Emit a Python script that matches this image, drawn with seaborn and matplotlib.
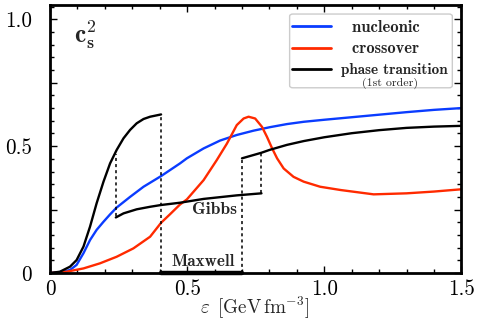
import numpy as np
import pandas as pd
import matplotlib
matplotlib.use("Agg")
import matplotlib.pyplot as plt
import seaborn as sns
from matplotlib.ticker import MultipleLocator, FixedLocator
from matplotlib.patches import FancyBboxPatch
from matplotlib.font_manager import FontProperties

# ---------------- data ----------------
eps_nuc = [0, 0.049, 0.073, 0.097, 0.122, 0.146, 0.170, 0.195, 0.219, 0.243, 0.292, 0.341, 0.405,
           0.474, 0.499, 0.56, 0.62, 0.681, 0.742, 0.803, 0.864, 0.925, 1.0, 1.1, 1.2, 1.3, 1.4, 1.5]
cs2_nuc = [0, 0.005, 0.012, 0.032, 0.078, 0.13, 0.17, 0.202, 0.231, 0.258, 0.30, 0.34, 0.382,
           0.432, 0.452, 0.491, 0.522, 0.544, 0.561, 0.575, 0.587, 0.596, 0.604, 0.614, 0.624, 0.634, 0.643, 0.65]

eps_cross = [0, 0.06, 0.122, 0.182, 0.243, 0.304, 0.365, 0.405, 0.438, 0.474, 0.499, 0.56, 0.608, 0.645,
             0.681, 0.706, 0.724, 0.748, 0.773, 0.791, 0.81, 0.828, 0.852, 0.888, 0.925, 0.985,
             1.06, 1.18, 1.3, 1.4, 1.5]
cs2_cross = [0, 0.005, 0.018, 0.038, 0.064, 0.097, 0.143, 0.198, 0.232, 0.27, 0.29, 0.366, 0.445, 0.51,
             0.583, 0.609, 0.616, 0.609, 0.576, 0.537, 0.491, 0.452, 0.412, 0.379, 0.36, 0.34,
             0.327, 0.31, 0.314, 0.321, 0.33]

eps_had = [0, 0.036, 0.073, 0.097, 0.122, 0.146, 0.170, 0.195, 0.219, 0.243, 0.268, 0.292, 0.316,
           0.341, 0.365, 0.405]
cs2_had = [0, 0.005, 0.025, 0.051, 0.104, 0.183, 0.275, 0.36, 0.432, 0.485, 0.531, 0.564, 0.59,
           0.607, 0.616, 0.625]

eps_gibbs = [0.24, 0.268, 0.316, 0.365, 0.405, 0.474, 0.56, 0.681, 0.771]
cs2_gibbs = [0.219, 0.235, 0.251, 0.261, 0.268, 0.277, 0.292, 0.306, 0.314]

eps_quark = [0.70, 0.771, 0.80, 0.864, 0.925, 1.0, 1.1, 1.2, 1.3, 1.4, 1.5]
cs2_quark = [0.452, 0.474, 0.485, 0.505, 0.52, 0.535, 0.551, 0.563, 0.572, 0.577, 0.58]

eps_maxwell = [0.405, 0.70]
cs2_maxwell = [0.0, 0.0]

# dashed transition jumps: position, lower end, upper end
jump_eps = [0.24, 0.405, 0.70, 0.771]
jump_lo = [0.225, 0.0, 0.0, 0.314]
jump_hi = [0.47, 0.625, 0.452, 0.474]

x_ticks = [0, 0.5, 1.0, 1.5]
x_ticklabels = ["0", "0.5", "1.0", "1.5"]
y_ticks = [0, 0.25, 0.5, 0.75, 1.0]
y_ticklabels = ["0", "", "0.5", "", "1.0"]

legend_labels = ["nucleonic", "crossover", "phase transition"]
legend_note = "(1st order)"

# ---------------- style ----------------
sns.set_style("ticks")
plt.rcParams["font.family"] = ["cmr10", "DejaVu Serif"]
plt.rcParams["mathtext.fontset"] = "cm"
plt.rcParams["axes.unicode_minus"] = False

fig = plt.figure(figsize=(4.8, 3.28), dpi=100)
ax = fig.add_axes([0.1042, 0.1677, 0.857, 0.816])
renderer = fig.canvas.get_renderer()


def fit_size(s, family, target_px, base=10.0):
    t = fig.text(0, 0, s, family=family, fontsize=base)
    w = t.get_window_extent(renderer).width
    t.remove()
    return base * target_px / w


blue = "#0a3cff"
red = "#ff2a00"
lw = 1.7


def df(x, y):
    return pd.DataFrame({"eps": x, "cs2": y})


sns.lineplot(data=df(eps_nuc, cs2_nuc), x="eps", y="cs2", color=blue, lw=lw, ax=ax,
             label=legend_labels[0], estimator=None)
sns.lineplot(data=df(eps_cross, cs2_cross), x="eps", y="cs2", color=red, lw=lw, ax=ax,
             label=legend_labels[1], estimator=None)
sns.lineplot(data=df(eps_had, cs2_had), x="eps", y="cs2", color="black", lw=lw, ax=ax,
             label=legend_labels[2], estimator=None)
sns.lineplot(data=df(eps_gibbs, cs2_gibbs), x="eps", y="cs2", color="black", lw=lw, ax=ax,
             estimator=None, legend=False)
sns.lineplot(data=df(eps_quark, cs2_quark), x="eps", y="cs2", color="black", lw=lw, ax=ax,
             estimator=None, legend=False)
sns.lineplot(data=df(eps_maxwell, cs2_maxwell), x="eps", y="cs2", color="black", lw=3.2, ax=ax,
             estimator=None, legend=False, clip_on=False)
ax.vlines(jump_eps, jump_lo, jump_hi, colors="black", linestyles=(0, (2, 2)), lw=1.1)

ax.set_xlim(0, 1.5)
ax.set_ylim(0, 1.055)

xl = r"$\varepsilon\ \,[\mathrm{GeV\,fm^{-3}}]$"
ax.set_xlabel(xl, fontsize=fit_size(xl, "cmr10", 110))
ax.xaxis.set_label_coords(0.497, -0.082)
ax.set_ylabel("")

tick_fs = fit_size("1.0", "cmr10", 27)
ax.xaxis.set_major_locator(FixedLocator(x_ticks))
ax.set_xticklabels(x_ticklabels)
ax.xaxis.set_minor_locator(MultipleLocator(0.1))
ax.yaxis.set_major_locator(FixedLocator(y_ticks))
ax.set_yticklabels(y_ticklabels)
ax.yaxis.set_minor_locator(MultipleLocator(0.05))
ax.tick_params(which="both", direction="in", top=True, right=True, width=1.0, colors="black",
               labelsize=tick_fs)
ax.tick_params(which="major", length=5)
ax.tick_params(which="minor", length=3)
ax.tick_params(axis="x", which="major", pad=5)
ax.tick_params(axis="y", which="major", pad=13)
for s in ax.spines.values():
    s.set_linewidth(2.0)
    s.set_color("black")

cs = r"$\mathbf{c}_\mathbf{s}^\mathbf{2}$"
ax.text(0.087, 0.91, cs, fontsize=fit_size(cs, "cmr10", 24), ha="left", va="baseline")
ax.text(0.598, 0.2325, "Gibbs", family="cmb10", fontsize=fit_size("Gibbs", "cmb10", 45),
        ha="center", va="baseline")
ax.text(0.558, 0.0276, "Maxwell", family="cmb10", fontsize=fit_size("Maxwell", "cmb10", 63),
        ha="center", va="baseline")

# legend (frame drawn separately so it can hold the small note line)
leg_fs = 11
leg = ax.legend(loc="upper left", bbox_to_anchor=(0.5875, 0.947), frameon=False,
                prop={"family": "cmb10", "size": leg_fs}, handlelength=2.6, handletextpad=0.65,
                labelspacing=0.45, borderpad=0.0, borderaxespad=0.0)
leg_targets = [68, 67, 107]
pads = ["  ", "  ", ""]
for txt, tgt, pad in zip(leg.get_texts(), leg_targets, pads):
    fs = fit_size(txt.get_text(), "cmb10", tgt)
    txt.set_fontproperties(FontProperties(family="cmb10", size=fs))
    txt.set_text(pad + txt.get_text())
for line in leg.get_lines():
    line.set_linewidth(2.0)
leg.set_zorder(6)

frame = FancyBboxPatch((0.5825, 0.692), 0.978 - 0.5825, 0.9675 - 0.692,
                       boxstyle="round,pad=0,rounding_size=0.008", transform=ax.transAxes,
                       facecolor="white", edgecolor="#cccccc", lw=1.0, zorder=5)
ax.add_patch(frame)
ax.text(0.827, 0.709, legend_note, family="cmr10", fontsize=fit_size(legend_note, "cmr10", 56),
        ha="center", va="center", transform=ax.transAxes, zorder=7)

fig.savefig("out.png", dpi=100)
